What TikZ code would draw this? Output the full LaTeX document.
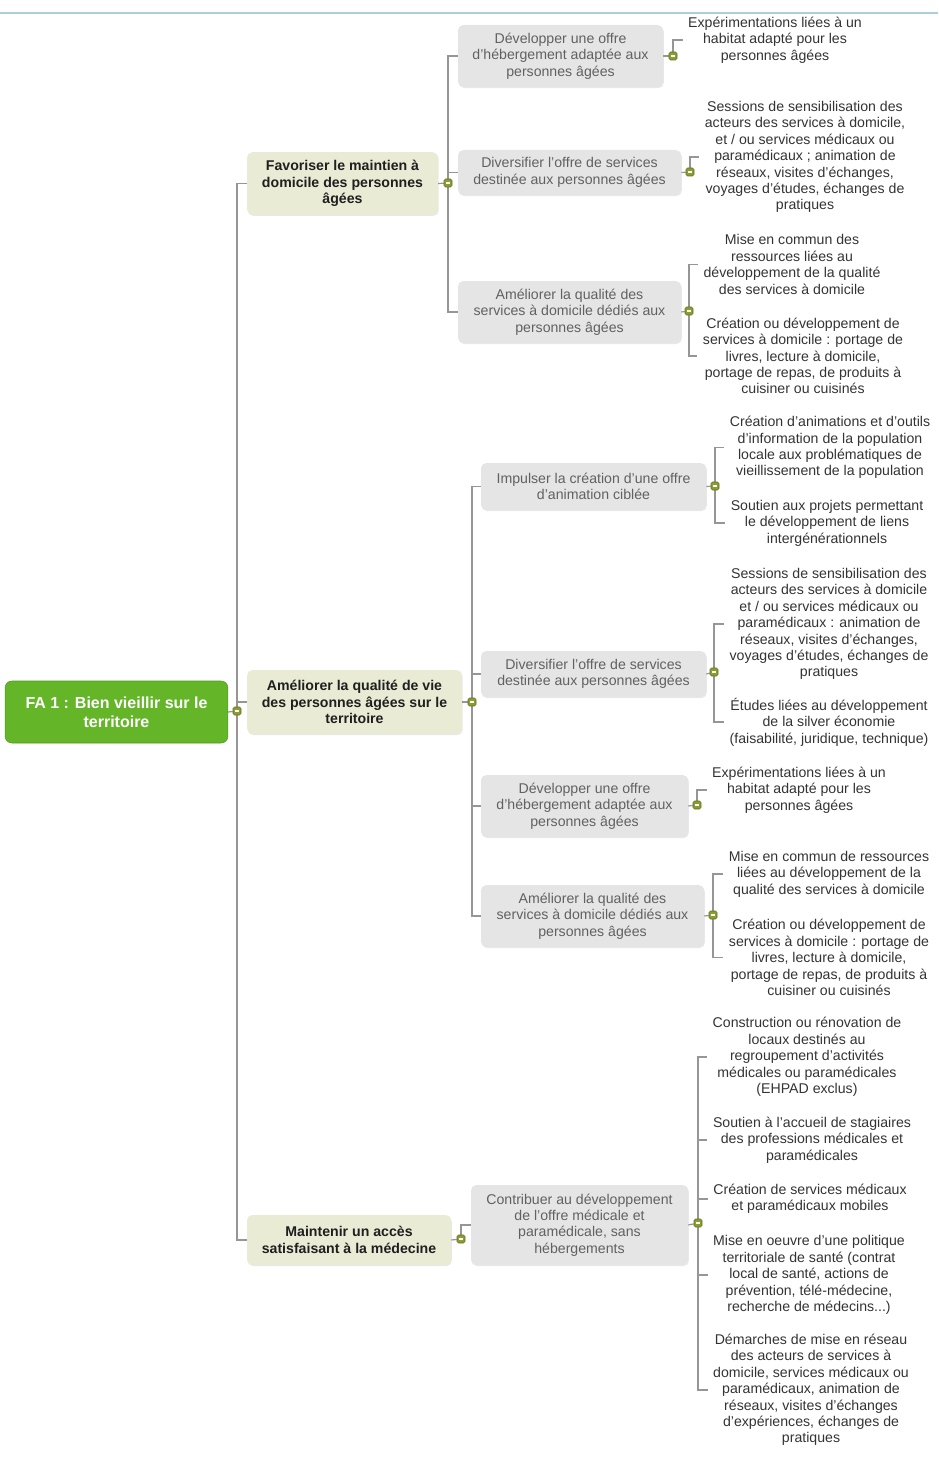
\documentclass[tikz,border=0pt]{standalone}
\usepackage{fontspec}
\setmainfont{Liberation Sans}
\usetikzlibrary{backgrounds,shadows}

\definecolor{vert}{RGB}{100,182,40}
\definecolor{vertfonce}{RGB}{80,152,30}
\definecolor{beige}{RGB}{233,235,212}
\definecolor{gris}{RGB}{229,229,229}
\definecolor{trait}{RGB}{150,150,150}
\definecolor{poignee}{RGB}{138,158,46}
\definecolor{bleu}{RGB}{172,206,222}

\begin{document}
\begin{tikzpicture}[x=0.75pt,y=-0.75pt,
    every node/.style={font=\fontsize{10.6}{12.3}\selectfont, align=center},
    racine/.style={draw=vertfonce, fill=vert, rounded corners=5pt, text=white,
        font=\fontsize{12}{14}\selectfont\bfseries},
    axe/.style={fill=beige, rounded corners=4pt, text=black!88,
        font=\fontsize{10.6}{12.3}\selectfont\bfseries,
        drop shadow={shadow xshift=0.6pt, shadow yshift=-0.8pt, opacity=0.18}},
    action/.style={fill=gris, rounded corners=4pt, text=black!62,
        drop shadow={shadow xshift=0.6pt, shadow yshift=-0.8pt, opacity=0.18}},
    detail/.style={text=black!80, inner sep=4pt},
    poignee/.style={draw=poignee!70!black, fill=poignee, rounded corners=1.2pt,
        minimum size=6pt, inner sep=0pt,
        path picture={\draw[white, line width=0.8pt]
            ([xshift=-1.8pt]path picture bounding box.center) --
            ([xshift=1.8pt]path picture bounding box.center);}},
    lien/.style={draw=trait, line width=0.9pt}]

    \useasboundingbox (0,0) rectangle (938,1462);
    \draw[bleu, line width=0.9pt] (0,13) -- (938,13);

    % racine
    \node[racine, minimum width=167pt, minimum height=46.5pt] (fa1) at (116.5,712)
        {FA 1 : Bien vieillir sur le\\territoire};
    \node[poignee] (h0) at (237,711) {};

    % axes
    \node[axe, minimum width=143pt, minimum height=47pt] (maintien) at (342.5,183.5)
        {Favoriser le maintien à\\domicile des personnes\\âgées};
    \node[axe, minimum width=161pt, minimum height=48pt] (qualvie) at (354.5,702)
        {Améliorer la qualité de vie\\des personnes âgées sur le\\territoire};
    \node[axe, minimum width=153pt, minimum height=37.5pt] (medecine) at (349,1240)
        {Maintenir un accès\\satisfaisant à la médecine};
    \node[poignee] (hmaintien) at (448,183) {};
    \node[poignee] (hqualvie) at (472,702) {};
    \node[poignee] (hmedecine) at (461,1239) {};

    % actions
    \node[action, minimum width=153.75pt, minimum height=46.5pt] (hebergA) at (560.5,56)
        {Développer une offre\\d'hébergement adaptée aux\\personnes âgées};
    \node[action, minimum width=167.25pt, minimum height=33.75pt] (diversA) at (569.5,172.5)
        {Diversifier l'offre de services\\destinée aux personnes âgées};
    \node[action, minimum width=167.25pt, minimum height=46.5pt] (domicileA) at (569.5,312)
        {Améliorer la qualité des\\services à domicile dédiés aux\\personnes âgées};
    \node[action, minimum width=168.75pt, minimum height=35.25pt] (animB) at (593.5,486.5)
        {Impulser la création d'une offre\\d'animation ciblée};
    \node[action, minimum width=168.75pt, minimum height=34.5pt] (diversB) at (593.5,674)
        {Diversifier l'offre de services\\destinée aux personnes âgées};
    \node[action, minimum width=155.25pt, minimum height=46.5pt] (hebergB) at (584.5,806)
        {Développer une offre\\d'hébergement adaptée aux\\personnes âgées};
    \node[action, minimum width=167.25pt, minimum height=46.5pt] (domicileB) at (592.5,916)
        {Améliorer la qualité des\\services à domicile dédiés aux\\personnes âgées};
    \node[action, minimum width=162.75pt, minimum height=60pt] (offreC) at (579.5,1225)
        {Contribuer au développement\\de l'offre médicale et\\paramédicale, sans\\hébergements};
    \node[poignee] (hhebergA) at (673,56) {};
    \node[poignee] (hdiversA) at (690,172) {};
    \node[poignee] (hdomicileA) at (689,311) {};
    \node[poignee] (hanimB) at (715,486) {};
    \node[poignee] (hdiversB) at (714,672) {};
    \node[poignee] (hhebergB) at (697,805) {};
    \node[poignee] (hdomicileB) at (713,915) {};
    \node[poignee] (hoffreC) at (698,1223) {};

    % details
    \node[detail] (habitatA) at (775,40)
        {Expérimentations liées à un\\habitat adapté pour les\\personnes âgées};
    \node[detail] (sessionsA) at (805,157)
        {Sessions de sensibilisation des\\acteurs des services à domicile,\\et / ou services médicaux ou\\paramédicaux ; animation de\\réseaux, visites d'échanges,\\voyages d'études, échanges de\\pratiques};
    \node[detail] (communA) at (792,264.5)
        {Mise en commun des\\ressources liées au\\développement de la qualité\\des services à domicile};
    \node[detail] (portageA) at (803,356)
        {Création ou développement de\\services à domicile : portage de\\livres, lecture à domicile,\\portage de repas, de produits à\\cuisiner ou cuisinés};
    \node[detail] (outilsB) at (830,447.5)
        {Création d'animations et d'outils\\d'information de la population\\locale aux problématiques de\\vieillissement de la population};
    \node[detail] (liensB) at (827,523)
        {Soutien aux projets permettant\\le développement de liens\\intergénérationnels};
    \node[detail] (sessionsB) at (829,624)
        {Sessions de sensibilisation des\\acteurs des services à domicile\\et / ou services médicaux ou\\paramédicaux : animation de\\réseaux, visites d'échanges,\\voyages d'études, échanges de\\pratiques};
    \node[detail] (silverB) at (829,722)
        {Études liées au développement\\de la silver économie\\(faisabilité, juridique, technique)};
    \node[detail] (habitatB) at (799,790)
        {Expérimentations liées à un\\habitat adapté pour les\\personnes âgées};
    \node[detail] (communB) at (829,874)
        {Mise en commun de ressources\\liées au développement de la\\qualité des services à domicile};
    \node[detail] (portageB) at (829,957.5)
        {Création ou développement de\\services à domicile : portage de\\livres, lecture à domicile,\\portage de repas, de produits à\\cuisiner ou cuisinés};
    \node[detail] (locauxC) at (807,1057)
        {Construction ou rénovation de\\locaux destinés au\\regroupement d'activités\\médicales ou paramédicales\\(EHPAD exclus)};
    \node[detail] (stagesC) at (812,1140)
        {Soutien à l'accueil de stagiaires\\des professions médicales et\\paramédicales};
    \node[detail] (mobilesC) at (810,1199)
        {Création de services médicaux\\et paramédicaux mobiles};
    \node[detail] (santeC) at (809,1275)
        {Mise en oeuvre d'une politique\\territoriale de santé (contrat\\local de santé, actions de\\prévention, télé-médecine,\\recherche de médecins...)};
    \node[detail] (reseauC) at (811,1390)
        {Démarches de mise en réseau\\des acteurs de services à\\domicile, services médicaux ou\\paramédicaux, animation de\\réseaux, visites d'échanges\\d'expériences, échanges de\\pratiques};

    \begin{scope}[on background layer]
        \draw[lien] (fa1.east) -- (h0);
        \foreach \n in {maintien,qualvie,medecine}
            \draw[lien] (h0) |- (\n.west);
        \draw[lien] (maintien.east) -- (hmaintien);
        \draw[lien] (qualvie.east) -- (hqualvie);
        \draw[lien] (medecine.east) -- (hmedecine);
        \foreach \n in {hebergA,diversA,domicileA}
            \draw[lien] (hmaintien) |- (\n.west);
        \foreach \n in {animB,diversB,hebergB,domicileB}
            \draw[lien] (hqualvie) |- (\n.west);
        \draw[lien] (hmedecine) |- (offreC.west);
        \foreach \a/\h in {hebergA/hhebergA,diversA/hdiversA,domicileA/hdomicileA,
                animB/hanimB,diversB/hdiversB,hebergB/hhebergB,domicileB/hdomicileB,
                offreC/hoffreC}
            \draw[lien] (\a.east) -- (\h);
        \draw[lien] (hhebergA) |- (habitatA.west);
        \draw[lien] (hdiversA) |- (sessionsA.west);
        \draw[lien] (hdomicileA) |- (communA.west);
        \draw[lien] (hdomicileA) |- (portageA.west);
        \draw[lien] (hanimB) |- (outilsB.west);
        \draw[lien] (hanimB) |- (liensB.west);
        \draw[lien] (hdiversB) |- (sessionsB.west);
        \draw[lien] (hdiversB) |- (silverB.west);
        \draw[lien] (hhebergB) |- (habitatB.west);
        \draw[lien] (hdomicileB) |- (communB.west);
        \draw[lien] (hdomicileB) |- (portageB.west);
        \foreach \n in {locauxC,stagesC,mobilesC,santeC,reseauC}
            \draw[lien] (hoffreC) |- (\n.west);
    \end{scope}

\end{tikzpicture}
\end{document}
